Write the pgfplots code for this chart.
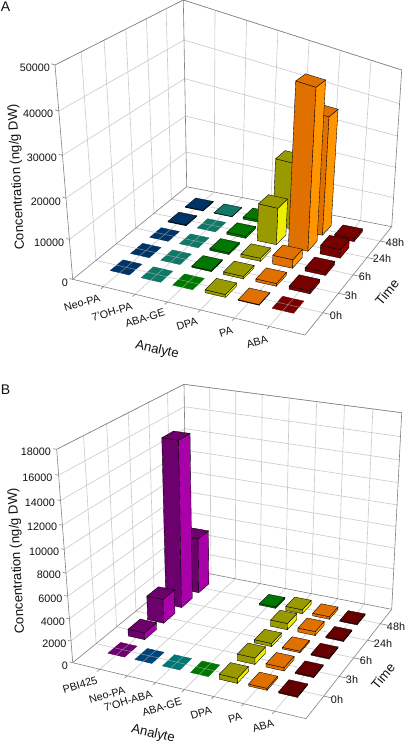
\documentclass[border=0pt]{standalone}
\usepackage{fontspec}
\setmainfont{Liberation Sans}
\usepackage{xfp}
\usepackage{pgfplots}
\usepackage{pgfplotstable}
\pgfplotsset{compat=1.18}

% analyte, time, concentration (ng/g DW); back to front
\pgfplotstableread{
a t v
0 4 200
0 3 200
0 2 0
0 1 0
0 0 0
1 4 100
1 3 0
1 2 0
1 1 0
1 0 0
2 4 600
2 3 600
2 2 500
2 1 300
2 0 0
3 4 20000
3 3 11000
3 2 900
3 1 700
3 0 800
4 4 36000
4 3 47500
4 2 2600
4 1 800
4 0 200
5 4 1000
5 3 2700
5 2 1000
5 1 900
5 0 0
}\dataA
\pgfplotstableread{
a t v
0 4 5400
0 3 15500
0 2 2300
0 1 650
0 0 0
1 0 0
2 0 0
3 4 150
3 0 0
4 4 400
4 3 600
4 2 300
4 1 600
4 0 450
5 4 250
5 3 380
5 2 150
5 1 300
5 0 180
6 4 100
6 3 100
6 2 100
6 1 100
6 0 100
}\dataB

\definecolor{gridc}{HTML}{C9C9C9}
\definecolor{framec}{HTML}{808080}
\definecolor{txt}{HTML}{111111}
\definecolor{A0f}{HTML}{003366}\definecolor{A0r}{HTML}{004488}
\definecolor{A1f}{HTML}{117766}\definecolor{A1r}{HTML}{229988}
\definecolor{A2f}{HTML}{007700}\definecolor{A2r}{HTML}{009900}
\definecolor{A3f}{HTML}{999900}\definecolor{A3r}{HTML}{EEEE00}
\definecolor{A4f}{HTML}{E07000}\definecolor{A4r}{HTML}{FF9500}
\definecolor{A5f}{HTML}{770000}\definecolor{A5r}{HTML}{990000}
\definecolor{B0f}{HTML}{6C006C}\definecolor{B0r}{HTML}{AA00AA}
\definecolor{B1f}{HTML}{004477}\definecolor{B1r}{HTML}{005599}
\definecolor{B2f}{HTML}{007777}\definecolor{B2r}{HTML}{009999}
\definecolor{B3f}{HTML}{007700}\definecolor{B3r}{HTML}{009900}
\definecolor{B4f}{HTML}{999900}\definecolor{B4r}{HTML}{EEEE00}
\definecolor{B5f}{HTML}{E07000}\definecolor{B5r}{HTML}{FF9500}
\definecolor{B6f}{HTML}{660000}\definecolor{B6r}{HTML}{880000}

% a plane of the picture, from its four corners
\newcommand\setplane[9]{%
 \edef\aone{\fpeval{#8-#4}}\edef\bone{\fpeval{#8-#6}}\edef\cone{\fpeval{#4+#6-#2-#8}}%
 \edef\atwo{\fpeval{#9-#5}}\edef\btwo{\fpeval{#9-#7}}\edef\ctwo{\fpeval{#5+#7-#3-#9}}%
 \edef\ddd{\fpeval{\aone*\btwo-\atwo*\bone}}%
 \edef\wwa{\fpeval{(\cone*\btwo-\ctwo*\bone)/\ddd}}%
 \edef\wwt{\fpeval{(\aone*\ctwo-\atwo*\cone)/\ddd}}%
 \expandafter\let\csname #1wa\endcsname\wwa
 \expandafter\let\csname #1wt\endcsname\wwt
 \expandafter\edef\csname #1xO\endcsname{#2}%
 \expandafter\edef\csname #1yO\endcsname{#3}%
 \expandafter\edef\csname #1xA\endcsname{\fpeval{#4*(1+\wwa)-(#2)}}%
 \expandafter\edef\csname #1yA\endcsname{\fpeval{#5*(1+\wwa)-(#3)}}%
 \expandafter\edef\csname #1xT\endcsname{\fpeval{#6*(1+\wwt)-(#2)}}%
 \expandafter\edef\csname #1yT\endcsname{\fpeval{#7*(1+\wwt)-(#3)}}%
}
\def\PL#1#2#3#4{((\csname #1#2O\endcsname+(#3)*\csname #1#2A\endcsname+(#4)*\csname #1#2T\endcsname)/(1+(#3)*\csname #1wa\endcsname+(#4)*\csname #1wt\endcsname))}
\def\zt#1{((#1)*(1+\kz)/(1+\kz*(#1)))}
\def\PP#1#2#3#4{\fpeval{round(\PL{F}{#1}{#2}{#3}+(\PL{U}{#1}{#2}{#3}-\PL{F}{#1}{#2}{#3})*\zt{#4},2)}}
\def\PT#1#2#3{(\PP{x}{#1}{#2}{#3},\PP{y}{#1}{#2}{#3})}
\newcommand\SEG[7]{\edef\tmp{\noexpand\addplot[forget plot,#1] coordinates {\PT{#2}{#3}{#4}\PT{#5}{#6}{#7}};}\tmp}
\newcommand\FACE[5]{\edef\tmp{\noexpand\addplot[forget plot,#1] coordinates {#2#3#4#5} --cycle;}\tmp}

\def\AF#1{((#1+1)/\Na)}
\def\TF#1{((#1+\toff)/6)}

\newcommand\barpass[2]{% table, pass: 0 flat bars, 1 the others, 2 veil on flat bars
 \pgfplotstablegetrowsof{#1}\pgfmathtruncatemacro\nrows{\pgfplotsretval-1}%
 \pgfplotsforeachungrouped \r in {0,...,\nrows}{%
  \pgfplotstablegetelem{\r}{a}\of{#1}\edef\ca{\pgfplotsretval}%
  \pgfplotstablegetelem{\r}{t}\of{#1}\edef\ct{\pgfplotsretval}%
  \pgfplotstablegetelem{\r}{v}\of{#1}\edef\cv{\pgfplotsretval}%
  \edef\az{\fpeval{\AF{\ca}-\hw/\Na}}\edef\ao{\fpeval{\AF{\ca}+\hw/\Na}}%
  \edef\tz{\fpeval{\TF{\ct}-\hw/6}}\edef\to{\fpeval{\TF{\ct}+\hw/6}}%
  \edef\zz{\fpeval{\cv/\zmax}}%
  \ifnum\cv=0
   \ifnum#2=0
    \FACE{fill=\pfx\ca f,draw=\pfx\ca f,line width=.3pt}{\PT{\az}{\tz}{0}}{\PT{\ao}{\tz}{0}}{\PT{\ao}{\to}{0}}{\PT{\az}{\to}{0}}%
   \fi
   \ifnum#2=2
    \FACE{fill=\pfx\ca f,draw=none,fill opacity=.45}{\PT{\az}{\tz}{0}}{\PT{\ao}{\tz}{0}}{\PT{\ao}{\to}{0}}{\PT{\az}{\to}{0}}%
   \fi
  \else
   \ifnum#2=1
    \FACE{fill=\pfx\ca f,draw=black,line width=.35pt}{\PT{\az}{\tz}{0}}{\PT{\ao}{\tz}{0}}{\PT{\ao}{\tz}{\zz}}{\PT{\az}{\tz}{\zz}}%
    \FACE{fill=\pfx\ca r,draw=black,line width=.35pt}{\PT{\ao}{\tz}{0}}{\PT{\ao}{\to}{0}}{\PT{\ao}{\to}{\zz}}{\PT{\ao}{\tz}{\zz}}%
    \FACE{fill=\pfx\ca f,draw=black,line width=.35pt}{\PT{\az}{\tz}{\zz}}{\PT{\ao}{\tz}{\zz}}{\PT{\ao}{\to}{\zz}}{\PT{\az}{\to}{\zz}}%
   \fi
  \fi
 }%
}

\newcommand\drawpanel[2]{% table, number of z steps
 % walls
 \pgfplotsforeachungrouped \i in {1,...,#2}{%
  \edef\zf{\fpeval{\i/#2}}%
  \SEG{draw=gridc,line width=.6pt}{0}{0}{\zf}{0}{1}{\zf}%
  \SEG{draw=gridc,line width=.6pt}{0}{1}{\zf}{1}{1}{\zf}%
 }%
 \pgfmathtruncatemacro\nlast{\Na-1}%
 \pgfplotsforeachungrouped \i in {0,...,4}{%
  \edef\tf{\fpeval{\TF{\i}}}%
  \SEG{draw=gridc,line width=.6pt}{0}{\tf}{0}{0}{\tf}{1}%
 }%
 \pgfplotsforeachungrouped \i in {1,...,\nlast}{%
  \edef\af{\fpeval{\i/\Na}}%
  \SEG{draw=gridc,line width=.6pt}{\af}{1}{0}{\af}{1}{1}%
 }%
 \barpass{#1}{0}%
 % floor
 \pgfplotsforeachungrouped \i in {0,...,4}{%
  \edef\tf{\fpeval{\TF{\i}}}%
  \SEG{draw=gridc,line width=.6pt}{0}{\tf}{0}{1}{\tf}{0}%
  \SEG{draw=framec,line width=.6pt}{1}{\tf}{0}{1.035}{\tf}{0}%
 }%
 \pgfplotsforeachungrouped \i in {1,...,\nlast}{%
  \edef\af{\fpeval{\i/\Na}}%
  \SEG{draw=gridc,line width=.6pt}{\af}{0}{0}{\af}{1}{0}%
  \SEG{draw=framec,line width=.6pt}{\af}{-0.02}{0}{\af}{0}{0}%
 }%
 \barpass{#1}{2}%
 \pgfplotsforeachungrouped \i in {0,...,#2}{%
  \edef\zf{\fpeval{\i/#2}}%
  \SEG{draw=framec,line width=.6pt}{-0.015}{0}{\zf}{0}{0}{\zf}%
 }%
 % frame
 \SEG{draw=framec,line width=.6pt}{0}{0}{0}{1}{0}{0}%
 \SEG{draw=framec,line width=.6pt}{1}{0}{0}{1}{1}{0}%
 \SEG{draw=framec,line width=.6pt}{1}{1}{0}{0}{1}{0}%
 \SEG{draw=framec,line width=.6pt}{0}{1}{0}{0}{0}{0}%
 \SEG{draw=framec,line width=.6pt}{0}{0}{0}{0}{0}{1}%
 \SEG{draw=framec,line width=.6pt}{0}{1}{0}{0}{1}{1}%
 \SEG{draw=framec,line width=.6pt}{1}{1}{0}{1}{1}{1}%
 \SEG{draw=framec,line width=.6pt}{0}{0}{1}{0}{1}{1}%
 \SEG{draw=framec,line width=.6pt}{0}{1}{1}{1}{1}{1}%
 \barpass{#1}{1}%
}

\newcommand\tl{\fontsize{10.8pt}{12pt}\selectfont\color{txt}}
\newcommand\al{\fontsize{13.2pt}{15pt}\selectfont\color{txt}}
\pgfplotsset{panel/.style={width=406pt,height=372pt,scale only axis,axis lines=none,
  xmin=0,xmax=406,ymin=0,ymax=372,y dir=reverse,clip=false,anchor=north west}}
\tikzset{zl/.style={anchor=east,inner sep=0pt,font=\tl},
 cl/.style={rotate=17,inner sep=0pt,font=\tl},
 tml/.style={inner sep=0pt,font=\tl}}

\begin{document}
\begin{tikzpicture}[x=1pt,y=1pt]
\useasboundingbox (0pt,-744pt) rectangle (406pt,0pt);
\begin{axis}[panel,at={(0pt,0pt)}]
\setplane{F}{72.7}{279.3}{305}{335}{186.7}{186.7}{391.7}{226.7}
\setplane{U}{55}{65}{312}{145}{183.3}{0}{401.7}{70}
\def\kz{-0.085}\def\Na{7}\def\toff{1.08}\def\hw{0.31}\def\zmax{50000}\def\pfx{A}
\drawpanel{\dataA}{5}
\node[zl] at (axis cs:50,68) {50000};
\node[zl] at (axis cs:53.3,114) {40000};
\node[zl] at (axis cs:57,158) {30000};
\node[zl] at (axis cs:61,202) {20000};
\node[zl] at (axis cs:64.3,243) {10000};
\node[zl] at (axis cs:68,283) {0};
\node[cl] at (axis cs:82,303) {Neo-PA};
\node[cl] at (axis cs:112,312) {7'OH-PA};
\node[cl] at (axis cs:145,318) {ABA-GE};
\node[cl] at (axis cs:187,324) {DPA};
\node[cl] at (axis cs:226,332) {PA};
\node[cl] at (axis cs:257,342) {ABA};
\node[tml] at (axis cs:336,316) {0h};
\node[tml] at (axis cs:351,296) {3h};
\node[tml] at (axis cs:365,277) {6h};
\node[tml] at (axis cs:382,259) {24h};
\node[tml] at (axis cs:395,243) {48h};
\node[rotate=93,inner sep=0pt,font=\al] at (axis cs:17,177) {Concentration (ng/g DW)};
\node[rotate=-13,inner sep=0pt,font=\al] at (axis cs:157,350) {Analyte};
\node[rotate=50,inner sep=0pt,font=\al] at (axis cs:387,292) {Time};
\node[inner sep=0pt,font=\fontsize{14pt}{16pt}\selectfont\color{txt}] at (axis cs:5.5,7) {A};
\end{axis}
\begin{axis}[panel,at={(0pt,-372pt)}]
\setplane{F}{72.7}{290.7}{306}{346.7}{187}{197.3}{391.7}{237.3}
\setplane{U}{56.7}{77.3}{315}{118}{184}{12.3}{401.7}{40.7}
\def\kz{-0.094}\def\Na{8}\def\toff{1.08}\def\hw{0.31}\def\zmax{18000}\def\pfx{B}
\drawpanel{\dataB}{9}
\node[zl] at (axis cs:51,80) {18000};
\node[zl] at (axis cs:52.7,105.7) {16000};
\node[zl] at (axis cs:55,130.7) {14000};
\node[zl] at (axis cs:57.3,155) {12000};
\node[zl] at (axis cs:59.3,180) {10000};
\node[zl] at (axis cs:61,203) {8000};
\node[zl] at (axis cs:62.7,226.7) {6000};
\node[zl] at (axis cs:65,250) {4000};
\node[zl] at (axis cs:66.7,272) {2000};
\node[zl] at (axis cs:68,294) {0};
\node[cl] at (axis cs:80,313) {PBI425};
\node[cl] at (axis cs:107,323) {Neo-PA};
\node[cl] at (axis cs:128,329) {7'OH-ABA};
\node[cl] at (axis cs:162,335) {ABA-GE};
\node[cl] at (axis cs:201,341) {DPA};
\node[cl] at (axis cs:235,346) {PA};
\node[cl] at (axis cs:263,354) {ABA};
\node[tml] at (axis cs:337,328) {0h};
\node[tml] at (axis cs:352,308) {3h};
\node[tml] at (axis cs:366,289) {6h};
\node[tml] at (axis cs:383,272) {24h};
\node[tml] at (axis cs:396,255) {48h};
\node[rotate=93,inner sep=0pt,font=\al] at (axis cs:17,189) {Concentration (ng/g DW)};
\node[rotate=-13,inner sep=0pt,font=\al] at (axis cs:153,362) {Analyte};
\node[rotate=50,inner sep=0pt,font=\al] at (axis cs:383,304) {Time};
\node[inner sep=0pt,font=\fontsize{14pt}{16pt}\selectfont\color{txt}] at (axis cs:5.5,18) {B};
\end{axis}
\end{tikzpicture}
\end{document}
